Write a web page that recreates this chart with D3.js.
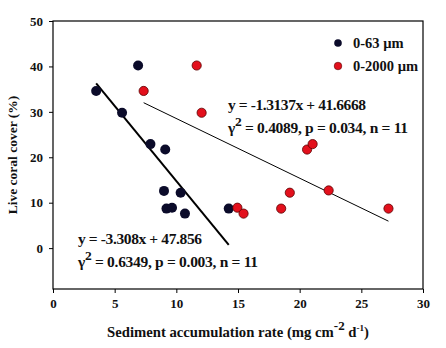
<!DOCTYPE html>
<html>
<head>
<meta charset="utf-8">
<script src="https://cdn.jsdelivr.net/npm/d3@7"></script>
<style>
  body { margin: 0; background: #fff; }
  svg text { font-family: "Liberation Serif", "Times New Roman", serif; font-weight: bold; fill: #111; }
</style>
</head>
<body>
<div id="chart"></div>
<script>
// sediment accumulation rate (x) vs live coral cover (y)
var fine_x   = [3.5, 5.6, 6.9, 7.9, 9.1, 9.0, 10.35, 9.2, 9.65, 10.7, 14.25];
var fine_y   = [34.6, 29.8, 40.2, 22.9, 21.7, 12.6, 12.2, 8.7, 8.9, 7.6, 8.7];
var coarse_x = [7.35, 11.65, 12.05, 20.6, 21.05, 19.2, 22.35, 14.95, 15.45, 18.5, 27.2];
var coarse_y = [34.6, 40.2, 29.8, 21.7, 22.9, 12.2, 12.7, 8.9, 7.6, 8.7, 8.7];

// fitted regressions
var fine_fit   = { slope: -3.308,  intercept: 47.856 };
var coarse_fit = { slope: -1.3137, intercept: 41.6668 };

var x_ticks = [0, 5, 10, 15, 20, 25, 30];
var y_ticks = [0, 10, 20, 30, 40, 50];

var series_names = ["0-63 \u00b5m", "0-2000 \u00b5m"];
var fine_eq   = ["y = -3.308x + 47.856", "= 0.6349, p = 0.003, n = 11"];
var coarse_eq = ["y = -1.3137x + 41.6668", "= 0.4089, p = 0.034, n = 11"];

var width = 446, height = 348;
var margin = { top: 21, left: 53, right: 23, bottom: 59 };

var svg = d3.select("#chart").append("svg")
	.attr("width", width)
	.attr("height", height);

var x = d3.scaleLinear().domain([0, 30]).range([margin.left, width - margin.right]);
var y = d3.scaleLinear().domain([-9, 50]).range([height - margin.bottom, margin.top]);

var darkFill = "#0b0b2a", redFill = "#e3101c", redStroke = "#5a0000";

// frame
svg.append("rect")
	.attr("x", x(0)).attr("y", y(50))
	.attr("width", x(30) - x(0)).attr("height", y(-9) - y(50))
	.attr("fill", "none").attr("stroke", "#000").attr("stroke-width", 1.2);

// axes
var xAxis = svg.append("g")
	.attr("transform", "translate(0," + y(-9) + ")")
	.call(d3.axisBottom(x).tickValues(x_ticks).tickSize(4).tickPadding(6));
var yAxis = svg.append("g")
	.attr("transform", "translate(" + x(0) + ",0)")
	.call(d3.axisLeft(y).tickValues(y_ticks).tickSize(4).tickPadding(6));

[xAxis, yAxis].forEach(function(g){
	g.select(".domain").remove();
	g.selectAll("line").attr("stroke", "#000");
	g.selectAll("text").attr("font-size", "13px").attr("fill", "#111")
		.style("font-family", "Liberation Serif").style("font-weight", "bold");
});

// axis titles
svg.append("text")
	.attr("transform", "translate(17," + ((y(50) + y(-9)) / 2) + ") rotate(-90)")
	.attr("text-anchor", "middle")
	.attr("font-size", "13.5px")
	.text("Live coral cover (%)");

var xt = svg.append("text")
	.attr("x", (x(0) + x(30)) / 2)
	.attr("y", 337)
	.attr("text-anchor", "middle")
	.attr("font-size", "14.7px");
xt.append("tspan").text("Sediment accumulation rate (mg cm");
xt.append("tspan").attr("dy", -7).attr("font-size", "13px").text("-2");
xt.append("tspan").attr("dy", 7).text(" d");
xt.append("tspan").attr("dy", -6).attr("font-size", "9px").text("-1");
xt.append("tspan").attr("dy", 6).text(")");

// regression lines over each series' x range
function fitLine(xs, fit, w){
	var x0 = d3.min(xs), x1 = d3.max(xs);
	svg.append("line")
		.attr("x1", x(x0)).attr("y1", y(fit.slope * x0 + fit.intercept))
		.attr("x2", x(x1)).attr("y2", y(fit.slope * x1 + fit.intercept))
		.attr("stroke", "#000").attr("stroke-width", w);
}
fitLine(fine_x, fine_fit, 2);
fitLine(coarse_x, coarse_fit, 1);

// points
svg.append("g").selectAll("circle")
	.data(d3.zip(fine_x, fine_y))
	.enter().append("circle")
	.attr("cx", function(d){ return x(d[0]); })
	.attr("cy", function(d){ return y(d[1]); })
	.attr("r", 5)
	.attr("fill", darkFill);

svg.append("g").selectAll("circle")
	.data(d3.zip(coarse_x, coarse_y))
	.enter().append("circle")
	.attr("cx", function(d){ return x(d[0]); })
	.attr("cy", function(d){ return y(d[1]); })
	.attr("r", 4.6)
	.attr("fill", redFill)
	.attr("stroke", redStroke).attr("stroke-width", 0.8);

// legend
var legend = svg.append("g");
[[darkFill, "none"], [redFill, redStroke]].forEach(function(c, i){
	var ly = 43 + i * 23;
	legend.append("circle").attr("cx", 338).attr("cy", ly).attr("r", 3.8)
		.attr("fill", c[0]).attr("stroke", c[1]).attr("stroke-width", 0.6);
	legend.append("text").attr("x", 353).attr("y", ly + 5)
		.attr("font-size", "14.5px").text(series_names[i]);
});

// regression labels, spread to fixed widths
function eqLabel(lx, ly, lines, w1, w2){
	svg.append("text").attr("x", lx).attr("y", ly).attr("font-size", "15.5px")
		.attr("textLength", w1).attr("lengthAdjust", "spacing")
		.text(lines[0]);
	var t = svg.append("text").attr("x", lx).attr("y", ly + 23).attr("font-size", "15.5px")
		.attr("textLength", w2).attr("lengthAdjust", "spacing");
	t.append("tspan").text("\u03b3");
	t.append("tspan").attr("dy", -7).attr("font-size", "13.5px").text("2");
	t.append("tspan").attr("dy", 7).text(" " + lines[1]);
}
eqLabel(228, 110, coarse_eq, 138, 180);
eqLabel(78, 244, fine_eq, 124, 180);
</script>
</body>
</html>
